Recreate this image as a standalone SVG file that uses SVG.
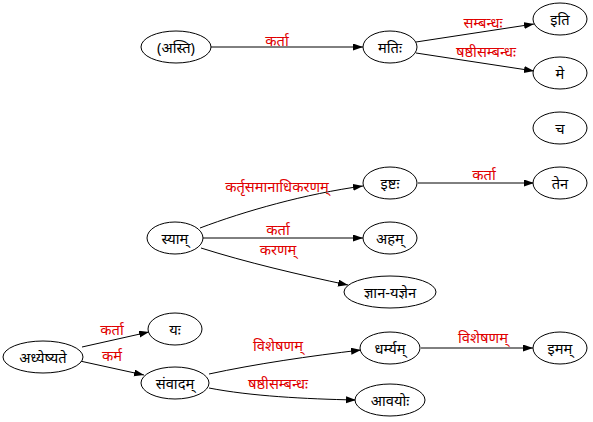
<svg xmlns="http://www.w3.org/2000/svg" width="593" height="422" viewBox="0 0 593 422">
<style>
text{font-family:"Noto Sans","Noto Sans Devanagari",sans-serif;font-size:14.7px;text-anchor:middle;dominant-baseline:central}
.node ellipse{fill:#fff;stroke:#000;stroke-width:1}
.lbl{fill:#e00000}
.edges path{fill:none;stroke:#000;stroke-width:1}
</style>
<defs>
<marker id="ah" markerUnits="userSpaceOnUse" markerWidth="11" markerHeight="8" refX="10" refY="3.5" orient="auto">
<path d="M0,0 L10,3.5 L0,7 Z" fill="#000"/>
</marker>
</defs>
<rect width="593" height="422" fill="#fff"/>
<g class="edges">
<path d="M211,47 L363,47" marker-end="url(#ah)"/>
<path d="M416,42 L534,24" marker-end="url(#ah)"/>
<path d="M416,53 L534,71" marker-end="url(#ah)"/>
<path d="M418,183 L534,183" marker-end="url(#ah)"/>
<path d="M200,228 C245,211 305,194 363,186" marker-end="url(#ah)"/>
<path d="M203,238 L363,238" marker-end="url(#ah)"/>
<path d="M201,248 C245,262 300,275 348,285" marker-end="url(#ah)"/>
<path d="M82,347 L149,332" marker-end="url(#ah)"/>
<path d="M80,361 L144,375" marker-end="url(#ah)"/>
<path d="M209,374 C255,364 310,356 361,350" marker-end="url(#ah)"/>
<path d="M209,388 C250,396 305,399 356,400" marker-end="url(#ah)"/>
<path d="M421,348 L533,348" marker-end="url(#ah)"/>
<text class="lbl" x="277" y="40">कर्ता</text>
<text class="lbl" x="483" y="22">सम्बन्धः</text>
<text class="lbl" x="486" y="51">षष्ठीसम्बन्धः</text>
<text class="lbl" x="484" y="174">कर्ता</text>
<text class="lbl" x="277" y="186">कर्तृसमानाधिकरणम्</text>
<text class="lbl" x="278" y="229">कर्ता</text>
<text class="lbl" x="278" y="249">करणम्</text>
<text class="lbl" x="112" y="329">कर्ता</text>
<text class="lbl" x="112" y="355">कर्म</text>
<text class="lbl" x="278" y="345">विशेषणम्</text>
<text class="lbl" x="278" y="383">षष्ठीसम्बन्धः</text>
<text class="lbl" x="483" y="337">विशेषणम्</text>
</g>
<g id="n_asti" class="node"><ellipse cx="176" cy="47" rx="35" ry="16"/><text x="176" y="47">(अस्ति)</text></g>
<g id="n_matih" class="node"><ellipse cx="390" cy="47" rx="27" ry="16"/><text x="390" y="47">मतिः</text></g>
<g id="n_iti" class="node"><ellipse cx="560" cy="19" rx="27" ry="16"/><text x="560" y="19">इति</text></g>
<g id="n_me" class="node"><ellipse cx="560" cy="73" rx="27" ry="16"/><text x="560" y="73">मे</text></g>
<g id="n_ca" class="node"><ellipse cx="560" cy="128" rx="27" ry="16"/><text x="560" y="128">च</text></g>
<g id="n_istah" class="node"><ellipse cx="390" cy="183" rx="27" ry="16"/><text x="390" y="183">इष्टः</text></g>
<g id="n_tena" class="node"><ellipse cx="560" cy="183" rx="27" ry="16"/><text x="560" y="183">तेन</text></g>
<g id="n_syam" class="node"><ellipse cx="175" cy="238" rx="28" ry="16"/><text x="175" y="238">स्याम्</text></g>
<g id="n_aham" class="node"><ellipse cx="390" cy="238" rx="27" ry="16"/><text x="390" y="238">अहम्</text></g>
<g id="n_jnana" class="node"><ellipse cx="390" cy="292" rx="46" ry="16"/><text x="390" y="292">ज्ञान-यज्ञेन</text></g>
<g id="n_adhy" class="node"><ellipse cx="43" cy="357" rx="40" ry="16"/><text x="43" y="357">अध्येष्यते</text></g>
<g id="n_yah" class="node"><ellipse cx="175" cy="329" rx="27" ry="16"/><text x="175" y="329">यः</text></g>
<g id="n_samvadam" class="node"><ellipse cx="175" cy="383" rx="34" ry="16"/><text x="175" y="383">संवादम्</text></g>
<g id="n_dharmyam" class="node"><ellipse cx="390" cy="348" rx="30" ry="16"/><text x="390" y="348">धर्म्यम्</text></g>
<g id="n_imam" class="node"><ellipse cx="560" cy="348" rx="27" ry="16"/><text x="560" y="348">इमम्</text></g>
<g id="n_avayoh" class="node"><ellipse cx="390" cy="400" rx="35" ry="16"/><text x="390" y="400">आवयोः</text></g>
</svg>
